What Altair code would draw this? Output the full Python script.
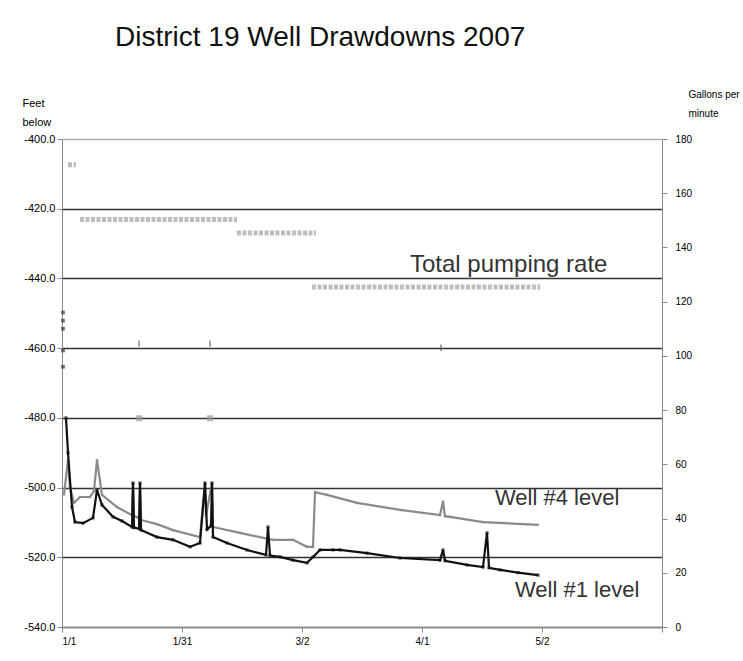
import altair as alt
import pandas as pd

# ---------------- data ----------------
x_tick_days = [0, 30, 60, 90, 120, 150]
x_tick_labels = ["1/1", "1/31", "3/2", "4/1", "5/2", ""]

well1_day = [1.0, 1.5, 2.5, 3.25, 5.25, 7.75, 8.75, 10.0, 12.75, 15.0, 17.5, 17.75, 18.0,
             19.25, 19.5, 19.75, 23.75, 27.75, 32.0, 34.5, 35.75, 36.25, 37.25, 37.5, 37.75,
             41.25, 46.25, 51.0, 51.5, 52.0, 54.5, 57.75, 61.25, 62.75, 64.5, 67.75, 69.5,
             76.25, 84.5, 94.5, 95.25, 95.75, 101.25, 105.25, 106.25, 106.75, 109.5, 114.0, 119.0]
well1_ft = [-480.0, -490.0, -505.6, -509.9, -510.2, -508.7, -500.7, -505.0, -508.4, -509.6, -511.3, -498.7, -511.5,
            -511.8, -498.7, -512.2, -514.2, -515.0, -517.0, -515.9, -498.7, -512.0, -511.0, -498.7, -514.2,
            -515.9, -517.9, -519.3, -511.3, -519.5, -519.9, -520.8, -521.6, -519.9, -517.9, -517.9, -517.9,
            -518.8, -520.2, -520.8, -517.9, -521.0, -522.2, -522.8, -513.0, -523.0, -523.6, -524.4, -525.1]

well4_day = [0.5, 1.5, 2.0, 3.0, 4.5, 7.0, 8.0, 8.75, 10.0, 13.75, 17.5, 17.75, 18.0, 19.25, 19.5,
             19.75, 23.75, 27.75, 34.5, 35.75, 36.0, 37.5, 37.75, 44.5, 52.75, 57.75, 61.25, 62.75,
             63.25, 66.25, 73.75, 84.5, 94.5, 95.25, 95.75, 97.0, 105.25, 119.0]
well4_ft = [-502.0, -492.1, -500.0, -504.4, -502.7, -502.7, -501.0, -492.1, -502.1, -505.6, -507.9, -498.7, -508.2, -508.7, -498.7,
            -509.3, -510.5, -512.2, -514.2, -498.7, -508.0, -498.7, -511.3, -513.0, -515.0, -515.0, -517.0, -517.0,
            -501.3, -502.1, -504.4, -506.4, -507.9, -504.0, -508.2, -508.4, -509.9, -510.7]

pump_start = [1.5, 4.5, 43.75, 62.5]
pump_end = [3.5, 43.75, 63.5, 119.5]
pump_gpm = [170.5, 150.3, 145.3, 125.4]

start_pts_day = [0.25, 0.25, 0.25, 0.25, 0.25]
start_pts_gpm = [116.0, 113.0, 110.0, 102.0, 96.0]
tick_pts_day = [19.25, 37.0, 94.75]
tick_pts_gpm = [104.5, 104.5, 103.0]
square_pts_day = [19.25, 37.0]
square_pts_gpm = [77.0, 77.0]

label_text = ["Total pumping rate", "Well #4 level", "Well #1 level"]
label_day = [87.0, 108.25, 113.25]
label_ft = [-436.1, -503.0, -529.4]
label_size = [24, 22, 22]

# ---------------- tables ----------------
w1 = pd.DataFrame({"day": well1_day, "ft": well1_ft})
w4 = pd.DataFrame({"day": well4_day, "ft": well4_ft})
pump = pd.DataFrame({"start": pump_start, "end": pump_end, "gpm": pump_gpm})
startp = pd.DataFrame({"day": start_pts_day, "gpm": start_pts_gpm})
tickp = pd.DataFrame({"day": tick_pts_day, "gpm": tick_pts_gpm})
sqp = pd.DataFrame({"day": square_pts_day, "gpm": square_pts_gpm})
labels = pd.DataFrame({"text": label_text, "day": label_day, "ft": label_ft, "size": label_size})

FONT = "Liberation Sans"
label_js = "[" + ",".join("'" + s + "'" for s in x_tick_labels) + "]"

x_scale = alt.Scale(domain=[0, 150], nice=False, zero=False)
x_axis = alt.Axis(values=x_tick_days, labelExpr=label_js + "[round(datum.value/30)]",
                  title=None, grid=False, labelFontSize=10, labelPadding=4)
x_enc = alt.X("day:Q", scale=x_scale, axis=x_axis)

feet_scale = alt.Scale(domain=[-540, -400], nice=False, zero=False)
feet_axis = alt.Axis(values=list(range(-540, -399, 20)),
                     labelExpr="'-' + format(abs(datum.value), '.1f')",
                     title=["Feet", "below"],
                     titleAngle=0, titleAlign="left", titleBaseline="alphabetic",
                     titleX=-40, titleY=-33, titleFontSize=11, titleFontWeight="normal",
                     titleLineHeight=19, grid=True, gridWidth=1.6,
                     gridColor={"condition": {"test": "datum.value === -400", "value": "#b0b0b0"},
                                "value": "#333333"},
                     labelFontSize=11)

gpm_scale = alt.Scale(domain=[0, 180], nice=False, zero=True)
gpm_axis = alt.Axis(orient="right", values=list(range(0, 181, 20)), format="d",
                    title=["Gallons per", "minute"], titleAngle=0, titleAlign="left",
                    titleBaseline="alphabetic", titleX=26, titleY=-42, titleFontSize=10,
                    titleFontWeight="normal", titleLineHeight=19, grid=False, labelFontSize=10,
                    labelPadding=8)

y_ft = alt.Y("ft:Q", scale=feet_scale, axis=feet_axis)
y_gpm = alt.Y("gpm:Q", scale=gpm_scale, axis=gpm_axis)

well4_line = alt.Chart(w4).mark_line(color="#8a8a8a", strokeWidth=2.2).encode(x=x_enc, y=y_ft)
well4_pts = alt.Chart(w4).mark_point(shape="square", size=6, filled=True, color="#8a8a8a").encode(x=x_enc, y=y_ft)
well1_line = alt.Chart(w1).mark_line(color="#111111", strokeWidth=2.2).encode(x=x_enc, y=y_ft)
well1_pts = alt.Chart(w1).mark_point(shape="square", size=10, filled=True, color="#111111").encode(x=x_enc, y=y_ft)
texts = alt.Chart(labels).mark_text(align="left", baseline="middle", font=FONT, color="#333333").encode(
    x=x_enc, y=y_ft, text="text:N", size=alt.Size("size:Q", scale=None, legend=None))

feet_layer = alt.layer(well4_line, well4_pts, well1_line, well1_pts, texts)

pump_rule = alt.Chart(pump).mark_rule(color="#bdbdbd", strokeWidth=5, strokeDash=[4, 1.5]).encode(
    x=alt.X("start:Q", scale=x_scale, axis=x_axis), x2="end:Q", y=y_gpm)
start_marks = alt.Chart(startp).mark_point(shape="square", size=14, filled=True, color="#333333").encode(x=x_enc, y=y_gpm)
tick_marks = alt.Chart(tickp).mark_point(shape="M0,-1L0,1", size=40, color="#555555", strokeWidth=1.5).encode(x=x_enc, y=y_gpm)
sq_marks = alt.Chart(sqp).mark_point(shape="square", size=36, filled=True, color="#9a9a9a").encode(x=x_enc, y=y_gpm)

gpm_layer = alt.layer(pump_rule, start_marks, tick_marks, sq_marks)

chart = alt.layer(feet_layer, gpm_layer).resolve_scale(y="independent").properties(
    width=600, height=488,
    padding={"left": 62, "top": 139, "right": 81, "bottom": 34},
    autosize=alt.AutoSizeParams(type="none"),
    title=alt.TitleParams("District 19 Well Drawdowns 2007", anchor="start", frame="group",
                          dx=53, offset=15, fontSize=28, fontWeight="normal", font=FONT,
                          color="#111111", baseline="alphabetic"),
).configure_view(stroke="#b0b0b0", strokeWidth=1.5).configure_axis(
    labelFont=FONT, titleFont=FONT, labelColor="#222222", titleColor="#222222",
    domainColor="#111111", domainWidth=1.6, tickColor="#111111", tickSize=4, tickWidth=1.2,
).configure(background="white")

chart.save("out.html", embed_options={"renderer": "svg", "actions": False})
